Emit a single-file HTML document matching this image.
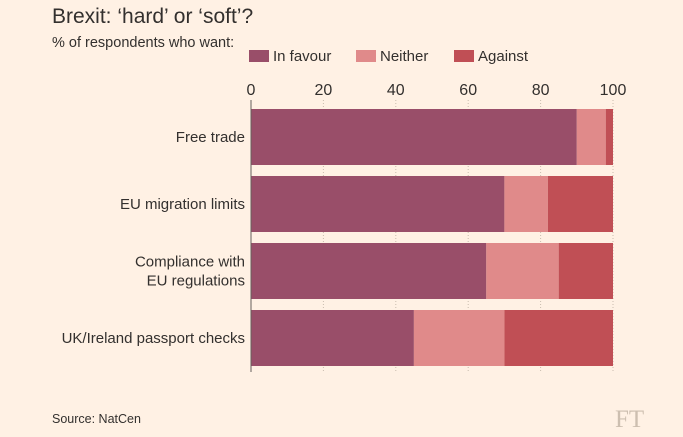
<!DOCTYPE html>
<html><head><meta charset="utf-8"><style>
body{margin:0;background:#fff1e4;font-family:"Liberation Sans",sans-serif;}
svg{display:block}
</style></head><body>
<svg width="683" height="437">
<rect width="683" height="437" fill="#fff1e4"/>
<text x="52" y="23" font-size="21" fill="#33302e">Brexit: ‘hard’ or ‘soft’?</text>
<text x="52" y="47" font-size="14.5" fill="#33302e">% of respondents who want:</text>
<g id="legend"></g>
<g id="grid"></g>
<g id="bars"></g>
<text x="52" y="423" font-size="12.5" fill="#33302e">Source: NatCen</text>
<text x="615" y="427" font-size="25" font-family="Liberation Serif,serif" fill="#cdbfb0">FT</text>
</svg>
<script>
const categories=["Free trade","EU migration limits","Compliance with|EU regulations","UK/Ireland passport checks"];
const inFavour=[90,70,65,45];
const neither=[8,12,20,25];
const against=[2,18,15,30];
const ticks=[0,20,40,60,80,100];
const seriesNames=["In favour","Neither","Against"];
const colors=["#994e69","#e08a8a","#c04f55"];
const NS="http://www.w3.org/2000/svg";
const x0=251,x1=613;
const xs=v=>x0+(x1-x0)*v/100;
const rowTop=[109,176,243,310],barH=56;
function mk(t,a,p){const e=document.createElementNS(NS,t);for(const k in a)e.setAttribute(k,a[k]);p.appendChild(e);return e;}
const lg=document.getElementById('legend');
const lx=[249,356,454];
seriesNames.forEach((n,i)=>{
 const r=mk('rect',{x:lx[i],y:50,width:20,height:12,fill:colors[i]},lg);
 
 
 const t=mk('text',{x:lx[i]+24,y:61,'font-size':15,fill:'#33302e'},lg);t.textContent=n;
 
 
});
const g=document.getElementById('grid');
ticks.forEach(v=>{
 const l=mk('line',{x1:xs(v),x2:xs(v),y1:100,y2:372,stroke:'#c9bcae','stroke-dasharray':'1,2'},g);
 
 
 const t=mk('text',{x:xs(v),y:95,'font-size':16,'text-anchor':'middle',fill:'#33302e'},g);t.textContent=v;
 
 
});
const b=document.getElementById('bars');
categories.forEach((c,i)=>{
 const vals=[inFavour[i],neither[i],against[i]];let acc=0;
 vals.forEach((v,j)=>{
  const r=mk('rect',{x:xs(acc),y:rowTop[i],width:xs(acc+v)-xs(acc),height:barH,fill:colors[j]},b);
  
  
  acc+=v;
 });
 const lines=c.split('|');const cy=rowTop[i]+barH/2;
 lines.forEach((ln,k)=>{
  const t=mk('text',{x:245,y:cy+5+(k-(lines.length-1)/2)*19,'font-size':15,'text-anchor':'end',fill:'#33302e'},b);t.textContent=ln;
  
  
 });
});
const ax=mk('line',{x1:x0,x2:x0,y1:100,y2:372,stroke:'#66605c','stroke-width':1},b);


</script>
</body></html>
